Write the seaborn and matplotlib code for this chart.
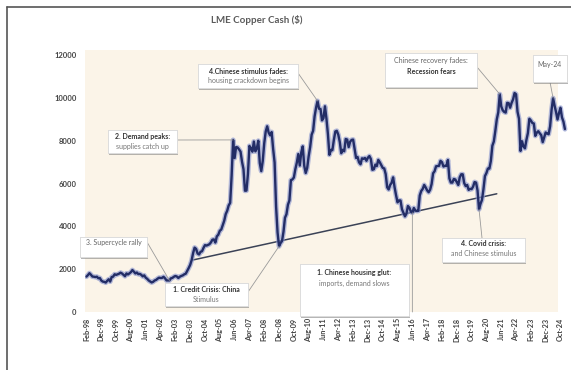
import numpy as np
import pandas as pd
import matplotlib
matplotlib.use("Agg")
import matplotlib.pyplot as plt
import seaborn as sns
from matplotlib.patches import FancyBboxPatch, Rectangle
from matplotlib.lines import Line2D
import matplotlib.patheffects as pe

# LME copper cash, monthly averages in US$/t (series starts Feb-1998)
y1998 = [1654, 1727, 1815, 1742, 1657, 1651, 1634, 1652, 1578, 1590, 1473]
y1999 = [1422, 1409, 1375, 1459, 1530, 1422, 1637, 1651, 1764, 1735, 1761, 1791]
y2000 = [1839, 1801, 1735, 1673, 1804, 1756, 1807, 1866, 1962, 1887, 1802, 1848]
y2001 = [1771, 1783, 1737, 1665, 1714, 1603, 1551, 1474, 1429, 1381, 1411, 1472]
y2002 = [1500, 1559, 1604, 1591, 1593, 1647, 1578, 1477, 1478, 1476, 1575, 1595]
y2003 = [1648, 1683, 1660, 1590, 1650, 1686, 1711, 1762, 1790, 1921, 2055, 2201]
y2004 = [2423, 2760, 3010, 2950, 2735, 2690, 2816, 2838, 2998, 3127, 3106, 3135]
y2005 = [3170, 3253, 3380, 3394, 3246, 3536, 3614, 3797, 3857, 4059, 4269, 4576]
y2006 = [4734, 4982, 5102, 6387, 8046, 7197, 7712, 7694, 7603, 7499, 7029, 6675]
y2007 = [5669, 5676, 6452, 7766, 7662, 7495, 7970, 7510, 7651, 8007, 6963, 6587]
y2008 = [7061, 7888, 8439, 8685, 8383, 8260, 8414, 7634, 6991, 4926, 3717, 3072]
y2009 = [3221, 3315, 3749, 4407, 4569, 5014, 5216, 6165, 6196, 6288, 6676, 6982]
y2010 = [7386, 6848, 7463, 7745, 6838, 6499, 6735, 7284, 7709, 8292, 8470, 9147]
y2011 = [9556, 9868, 9503, 9493, 8960, 9067, 9619, 9040, 8315, 7350, 7581, 7566]
y2012 = [8040, 8441, 8471, 8289, 7955, 7423, 7584, 7516, 8088, 8062, 7711, 7962]
y2013 = [8047, 8061, 7645, 7204, 7248, 7000, 6907, 7186, 7159, 7203, 7071, 7215]
y2014 = [7291, 7149, 6650, 6674, 6891, 6821, 7113, 7002, 6872, 6737, 6713, 6446]
y2015 = [5831, 5729, 5940, 6042, 6295, 5833, 5457, 5127, 5217, 5216, 4800, 4639]
y2016 = [4472, 4599, 4954, 4873, 4695, 4640, 4865, 4751, 4722, 4731, 5450, 5660]
y2017 = [5755, 5941, 5821, 5684, 5600, 5720, 5985, 6485, 6580, 6812, 6826, 6834]
y2018 = [7066, 7006, 6800, 6837, 6825, 7108, 6248, 6052, 6051, 6221, 6194, 6073]
y2019 = [5939, 6299, 6439, 6438, 6029, 5887, 5941, 5709, 5760, 5746, 5861, 6077]
y2020 = [6049, 5687, 4800, 5058, 5239, 5742, 6354, 6497, 6705, 6705, 7065, 7772]
y2021 = [7971, 8461, 9005, 9336, 10184, 9612, 9433, 9357, 9324, 9778, 9766, 9550]
y2022 = [9780, 9941, 10238, 10183, 9362, 9034, 7531, 7983, 7746, 7651, 8045, 8367]
y2023 = [9035, 8955, 8836, 8815, 8234, 8386, 8453, 8353, 8270, 7940, 8169, 8394]
y2024 = [8344, 8312, 8679, 9460, 10000, 9650, 9350, 9000, 9300, 9550, 9100, 8900]
y2025 = [8550]

# support trend line: start / end month and level
trend_dates = ["2004-02", "2021-03"]
trend_values = [2435, 5527]

y_ticks = [0, 2000, 4000, 6000, 8000, 10000, 12000]
tick_labels = ["Feb-98", "Dec-98", "Oct-99", "Aug-00", "Jun-01", "Apr-02", "Feb-03",
               "Dec-03", "Oct-04", "Aug-05", "Jun-06", "Apr-07", "Feb-08", "Dec-08",
               "Oct-09", "Aug-10", "Jun-11", "Apr-12", "Feb-13", "Dec-13", "Oct-14",
               "Aug-15", "Jun-16", "Apr-17", "Feb-18", "Dec-18", "Oct-19", "Aug-20",
               "Jun-21", "Apr-22", "Feb-23", "Dec-23", "Oct-24"]

cash = (y1998 + y1999 + y2000 + y2001 + y2002 + y2003 + y2004 + y2005 + y2006 +
        y2007 + y2008 + y2009 + y2010 + y2011 + y2012 + y2013 + y2014 + y2015 +
        y2016 + y2017 + y2018 + y2019 + y2020 + y2021 + y2022 + y2023 + y2024 + y2025)
dates = pd.date_range("1998-02-01", periods=len(cash), freq="MS")
month_no = np.arange(len(cash))
df = pd.DataFrame({"month": month_no, "price": cash})
label_of = [d.strftime("%b-%y") for d in dates]


def idx(label):
    return label_of.index(label)


def at(label):
    i = idx(label)
    return (i, cash[i])


sns.set_style("white")
plt.rcParams["font.family"] = ["Lato", "DejaVu Sans"]

W, H = 571, 370
fig = plt.figure(figsize=(W / 100, H / 100), dpi=100)
fig.patch.set_facecolor("white")


def fx(px):
    return px / W


def fy(py):
    return 1 - py / H


ax = fig.add_axes([fx(85), fy(312), fx(571) - fx(85), fy(50) - fy(312)])
ax.set_facecolor("none")
ax.add_patch(Rectangle((0, 0), (558 - 85) / (571 - 85), 1, transform=ax.transAxes,
                       fc="#fbf4e8", ec="none", zorder=0))

# trend line
tm = [idx(pd.Timestamp(d).strftime("%b-%y")) for d in trend_dates]
sns.lineplot(x=tm, y=trend_values, ax=ax, color="#3b4256", lw=1.1, zorder=2)

# price line with soft blue halo
sns.lineplot(data=df, x="month", y="price", ax=ax, color="#8d99cf", lw=3.6,
             alpha=0.65, zorder=3)
sns.lineplot(data=df, x="month", y="price", ax=ax, color="#232d66", lw=1.7, zorder=4)

ax.set_xlim(-1.0, 327.1)
ax.set_ylim(0, 12250)
for s in ax.spines.values():
    s.set_visible(False)
ax.grid(False)
ax.set_xlabel("")
ax.set_ylabel("")

ax.set_yticks(y_ticks)
ax.set_yticklabels([str(v) for v in y_ticks], fontsize=5.5, fontweight="bold", color="#444444")
ax.set_xticks([idx(l) for l in tick_labels])
ax.set_xticklabels(tick_labels, rotation=90, fontsize=5.2, fontweight="bold", color="#404040")
ax.tick_params(axis="y", length=0, pad=6)
ax.tick_params(axis="x", length=0, pad=4)

fig.text(fx(257), fy(20), "LME Copper Cash ($)", fontsize=7, fontweight="bold",
         color="#5a5a5a", ha="center", va="center")

# outer frame (top and left edges)
fig.add_artist(Line2D([fx(7), fx(7)], [0, fy(7)], color="#555555", lw=1.2))
fig.add_artist(Line2D([fx(7), 1], [fy(7), fy(7)], color="#555555", lw=1.2))


def callout(box, lines, target=None, anchor=None, target_from=None):
    x0, y0, x1, y1 = box
    patch = FancyBboxPatch((fx(x0), fy(y1)), fx(x1) - fx(x0), fy(y0) - fy(y1),
                           boxstyle="square,pad=0", transform=fig.transFigure,
                           fc="white", ec="#d6d6d6", lw=0.5, zorder=6)
    patch.set_path_effects([pe.withSimplePatchShadow(offset=(1.0, -1.4),
                                                     shadow_rgbFace="#7a7a7a", alpha=0.55),
                            pe.Normal()])
    fig.add_artist(patch)
    cx = (x0 + x1) / 2
    for txt, ypx, weight, color in lines:
        fig.text(fx(cx), fy(ypx), txt, ha="center", va="center", fontsize=5,
                 fontweight=weight, color=color, zorder=7)
    if target is not None and anchor is not None:
        ax.annotate("", xy=target, xycoords="data",
                    xytext=(fx(anchor[0]), fy(anchor[1])), textcoords="figure fraction",
                    arrowprops=dict(arrowstyle="-", color="#9a9a9a", lw=0.6,
                                    shrinkA=0, shrinkB=0), zorder=5)
    if target is not None and target_from is not None:
        ax.annotate("", xy=target, xycoords="data", xytext=target_from, textcoords="data",
                    arrowprops=dict(arrowstyle="-", color="#9a9a9a", lw=0.6,
                                    shrinkA=0, shrinkB=0), zorder=5, annotation_clip=False)


callout((80, 237, 147, 257), [("3. Supercycle rally", 243, "normal", "#666666")],
        target=at("Oct-02"), anchor=(147, 242))
callout((108, 130, 177, 153), [("2. Demand peaks:", 136, "bold", "#333333"),
                               ("supplies catch up", 146, "normal", "#777777")],
        target=at("May-06"), anchor=(177, 140))
callout((165, 283, 248, 306), [("1. Credit Crisis: China", 290, "bold", "#333333"),
                               ("Stimulus", 299, "normal", "#777777")],
        target=at("Dec-08"), anchor=(248, 292))
callout((198, 64, 298, 88), [("4.Chinese stimulus fades:", 71.5, "bold", "#333333"),
                             ("housing crackdown begins", 81, "normal", "#777777")],
        target=at("Feb-11"), anchor=(298, 73))
jun16 = at("Jun-16")
callout((300, 264, 409, 316), [("1. Chinese housing glut:", 273, "bold", "#333333"),
                               ("imports, demand slows", 283, "normal", "#777777")],
        target=jun16, target_from=(jun16[0], 0))
callout((442, 238, 525, 262), [("4. Covid crisis:", 244, "bold", "#333333"),
                               ("and Chinese stimulus", 254, "normal", "#777777")],
        target=at("Mar-20"), anchor=(482, 238))
callout((385, 53, 477, 87), [("Chinese recovery fades:", 61, "normal", "#666666"),
                             ("Recession fears", 71, "bold", "#333333")],
        target=at("May-21"), anchor=(477, 67))
callout((533, 55, 567, 82), [("May-24", 64, "normal", "#666666")],
        target=at("May-24"), anchor=(550, 82))

fig.savefig("out.png", dpi=100)
